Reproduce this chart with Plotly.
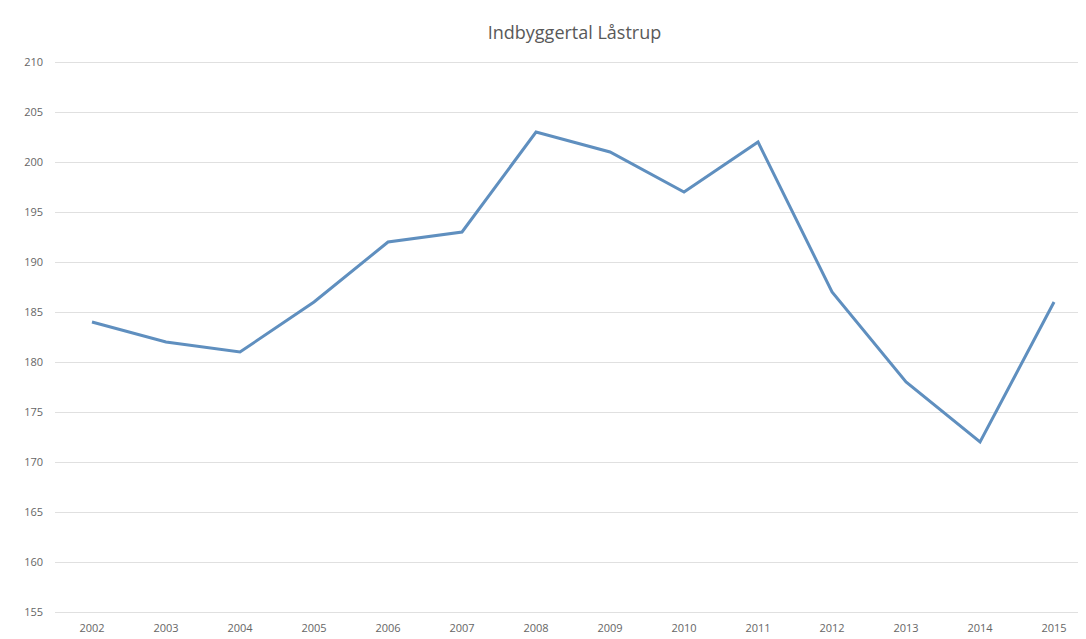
import plotly.graph_objects as go

years = ["2002", "2003", "2004", "2005", "2006", "2007", "2008",
         "2009", "2010", "2011", "2012", "2013", "2014", "2015"]
population = [184, 182, 181, 186, 192, 193, 203, 201, 197, 202, 187, 178, 172, 186]
y_ticks = list(range(155, 211, 5))

fig = go.Figure()
fig.add_trace(go.Scatter(
    x=list(range(len(years))), y=population, mode="lines",
    line=dict(color="#5f8fbf", width=3),
    hoverinfo="y",
))

fig.update_layout(
    width=1086, height=639,
    margin=dict(l=47, r=0, t=52, b=33, autoexpand=False),
    paper_bgcolor="white", plot_bgcolor="white",
    showlegend=False,
    font=dict(family="Open Sans, Noto Sans, sans-serif", color="#606060"),
    title=dict(text="Indbyggertal Låstrup", x=0.5, xref="paper",
               y=1 - 25 / 639, yref="container", yanchor="middle",
               font=dict(size=18, color="#595959")),
    xaxis=dict(
        tickmode="array", tickvals=list(range(len(years))), ticktext=years,
        range=[-0.5, 13.54], showgrid=False, zeroline=False, showline=False,
        ticks="", tickfont=dict(size=11, color="#666666"), automargin=False,
        ticklabelstandoff=6,
    ),
    yaxis=dict(
        range=[154.8, 210.2], tickmode="array", tickvals=y_ticks,
        showgrid=True, gridcolor="#e0e0e0", gridwidth=1,
        zeroline=False, showline=False, ticks="",
        tickfont=dict(size=11, color="#666666"), ticklabelstandoff=11,
        automargin=False,
    ),
)

fig.write_html("out.html")
